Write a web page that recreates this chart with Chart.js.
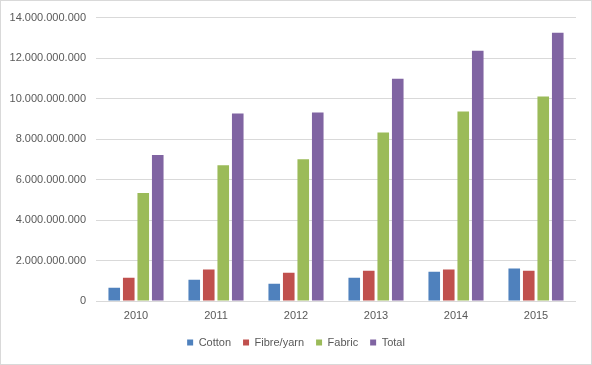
<!DOCTYPE html>
<html>
<head>
<meta charset="utf-8">
<script src="https://cdn.jsdelivr.net/npm/chart.js@4/dist/chart.umd.min.js"></script>
<style>
  html, body { margin: 0; padding: 0; background: #fff; }
  #wrap { width: 592px; height: 365px; box-sizing: border-box; border: 1px solid #d9d9d9; }
  #chart { display: block; }
</style>
</head>
<body>
<div id="wrap"><canvas id="chart" width="590" height="363"></canvas></div>
<script>
var years = ['2010', '2011', '2012', '2013', '2014', '2015'];
var cotton = [650000000, 1050000000, 850000000, 1150000000, 1450000000, 1600000000];
var fibre_yarn = [1150000000, 1550000000, 1400000000, 1500000000, 1550000000, 1500000000];
var fabric = [5330000000, 6700000000, 7000000000, 8330000000, 9360000000, 10100000000];
var total = [7210000000, 9260000000, 9310000000, 10980000000, 12360000000, 13250000000];

function format_number(v){
  return String(v).replace(/\B(?=(\d{3})+(?!\d))/g, '.');
}

Chart.defaults.font.family = '"Liberation Sans", Arial, sans-serif';
Chart.defaults.font.size = 11;
Chart.defaults.color = '#595959';

// legend is centred on the whole canvas, not on the padded box
var center_legend = {
  id: 'center_legend',
  afterLayout: function(chart){
    chart.legend.left = 0;
    chart.legend.right = chart.width;
  }
};

var ctx = document.getElementById('chart').getContext('2d');

var mychart = new Chart(ctx, {type: 'bar', data: {
    labels: years,
    datasets: [
      {label: 'Cotton', data: cotton, backgroundColor: '#4F81BD'},
      {label: 'Fibre/yarn', data: fibre_yarn, backgroundColor: '#C0504D'},
      {label: 'Fabric', data: fabric, backgroundColor: '#9BBB59'},
      {label: 'Total', data: total, backgroundColor: '#8064A2'}
    ]
  }, options: {
    responsive: false,
    animation: false,
    categoryPercentage: 0.725,
    barPercentage: 0.8,
    layout: {
      padding: {top: 15, right: 15, left: 0, bottom: 6}
    },
    scales: {
      x: {
        grid: {display: false, drawTicks: false},
        border: {display: false},
        ticks: {padding: 8},
        afterFit: function(scale){ scale.height = 24; }
      },
      y: {
        min: 0,
        max: 14000000000,
        ticks: {
          stepSize: 2000000000,
          padding: 10,
          callback: function(v){ return format_number(v); }
        },
        grid: {color: '#d9d9d9', drawTicks: false},
        border: {display: false},
        afterFit: function(scale){ scale.width = 95; }
      }
    },
    plugins: {
      legend: {
        position: 'bottom',
        labels: {boxWidth: 6, boxHeight: 6, padding: 12}
      },
      tooltip: {enabled: false}
    }
  },
  plugins: [center_legend]
});
</script>
</body>
</html>
